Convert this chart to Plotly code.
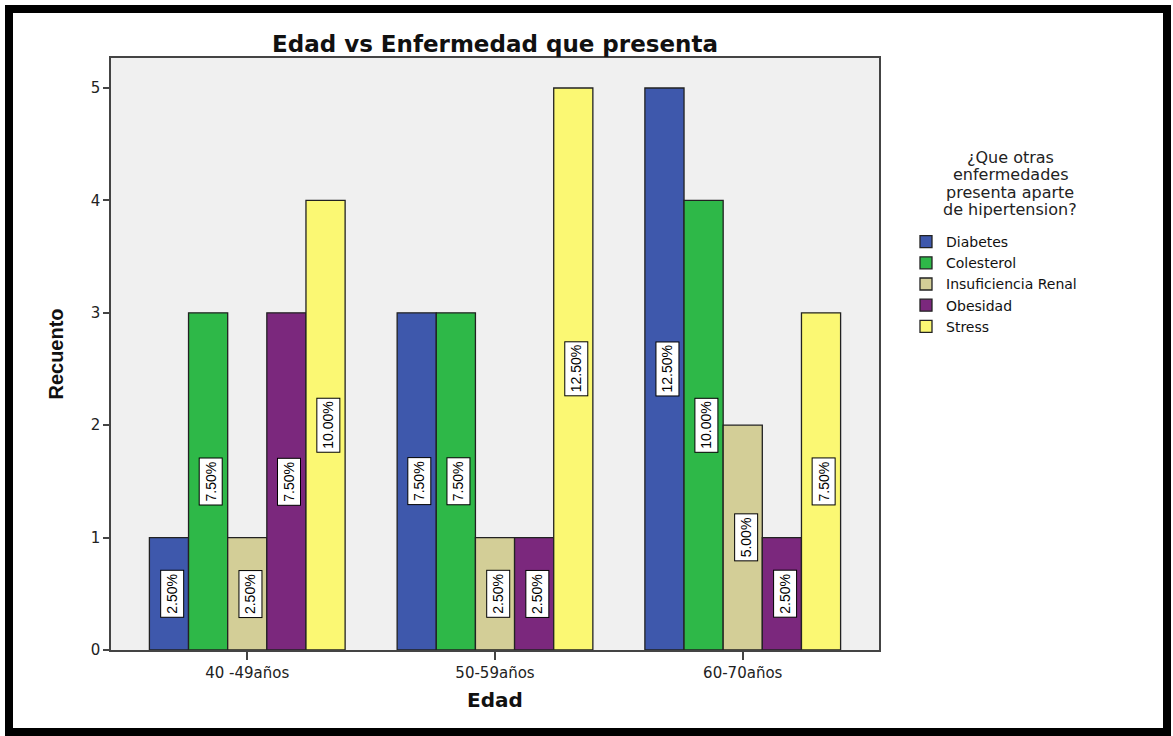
import plotly.graph_objects as go

# Grouped counts: disease reported besides hypertension, by age band
edades = ["40 -49años", "50-59años", "60-70años"]
enfermedades = ["Diabetes", "Colesterol", "Insuficiencia Renal", "Obesidad", "Stress"]
diabetes = [1, 3, 5]
colesterol = [3, 3, 4]
insuficiencia_renal = [1, 1, 2]
obesidad = [3, 1, 1]
stress = [4, 5, 3]
titulo_leyenda = ["¿Que otras", "enfermedades", "presenta aparte", "de hipertension?"]

series = [diabetes, colesterol, insuficiencia_renal, obesidad, stress]
colores = ["#3E58AC", "#2EB848", "#D3CE97", "#7B287D", "#FBF873"]

total = sum(sum(s) for s in series)

W, H = 1173, 736
ML, MR, MT, MB = 111, 294, 58, 86
PW, PH = W - ML - MR, H - MT - MB

WIDE = "DejaVu Sans, Verdana, sans-serif"
NARROW = "Liberation Sans, Arial, sans-serif"

BARGAP = 0.21
n_series = len(series)
bar_w = (1 - BARGAP) / n_series


def px_x(p):
    return (p - ML) / PW


def px_y(p):
    return (H - MB - p) / PH


fig = go.Figure()
for name, vals, col in zip(enfermedades, series, colores):
    fig.add_trace(go.Bar(
        name=name, x=edades, y=vals,
        marker=dict(color=col, line=dict(color="#222222", width=1.3)),
    ))

# Percentage labels in boxed, rotated text at the middle of each bar
annotations = []
for k, vals in enumerate(series):
    for i, v in enumerate(vals):
        xc = i - (1 - BARGAP) / 2 + (k + 0.5) * bar_w
        annotations.append(dict(
            x=xc, y=v / 2, xref="x", yref="y",
            text=f"{v / total * 100:.2f}%", textangle=-90, showarrow=False,
            font=dict(family=NARROW, size=14, color="#000000"),
            bgcolor="#FFFFFF", bordercolor="#000000", borderwidth=1, borderpad=3,
            xshift=3,
        ))

# Legend heading, one centred line at a time for tight line spacing
for j, linea in enumerate(titulo_leyenda):
    annotations.append(dict(
        x=px_x(1010), y=px_y(157 + j * 17.6), xref="paper", yref="paper",
        xanchor="center", yanchor="middle", showarrow=False,
        text=linea, font=dict(family=WIDE, size=16, color="#222222"),
    ))

# Outer black frame around the whole chart
shapes = [dict(
    type="rect", xref="paper", yref="paper",
    x0=px_x(9), x1=px_x(1167), y0=px_y(732), y1=px_y(9),
    line=dict(color="#000000", width=8), fillcolor="rgba(0,0,0,0)", layer="above",
)]

fig.update_layout(
    width=W, height=H,
    margin=dict(l=ML, r=MR, t=MT, b=MB),
    paper_bgcolor="#FFFFFF", plot_bgcolor="#F0F0F0",
    font=dict(family=WIDE, color="#222222"),
    barmode="group", bargap=BARGAP, bargroupgap=0,
    title=dict(
        text="<b>Edad vs Enfermedad que presenta</b>",
        x=0.5, xref="paper", xanchor="center",
        y=1 - 44 / H, yref="container", yanchor="middle",
        font=dict(family=WIDE, size=23, color="#111111"),
    ),
    xaxis=dict(
        type="category", range=[-0.55, 2.55],
        showline=True, linecolor="#444444", linewidth=1.5, mirror=True,
        ticks="outside", ticklen=8, tickcolor="#444444", tickwidth=1.5,
        tickfont=dict(family=WIDE, size=15, color="#222222"),
        showgrid=False, zeroline=False,
        title=dict(text="<b>Edad</b>", font=dict(family=WIDE, size=20, color="#111111"), standoff=12),
    ),
    yaxis=dict(
        range=[0, 5.267], tickvals=[0, 1, 2, 3, 4, 5],
        showline=True, linecolor="#444444", linewidth=1.5, mirror=True,
        ticks="outside", ticklen=6, tickcolor="#444444", tickwidth=1.5,
        tickfont=dict(family=WIDE, size=15, color="#222222"),
        showgrid=False, zeroline=False,
        title=dict(text="<b>Recuento</b>", font=dict(family=NARROW, size=20, color="#111111"), standoff=22),
    ),
    legend=dict(
        x=px_x(906), y=px_y(226), xanchor="left", yanchor="top",
        xref="paper", yref="paper",
        bgcolor="rgba(0,0,0,0)",
        font=dict(family=WIDE, size=14, color="#111111"),
        tracegroupgap=0, itemwidth=30,
    ),
    annotations=annotations,
    shapes=shapes,
)

fig.write_html("out.html")
